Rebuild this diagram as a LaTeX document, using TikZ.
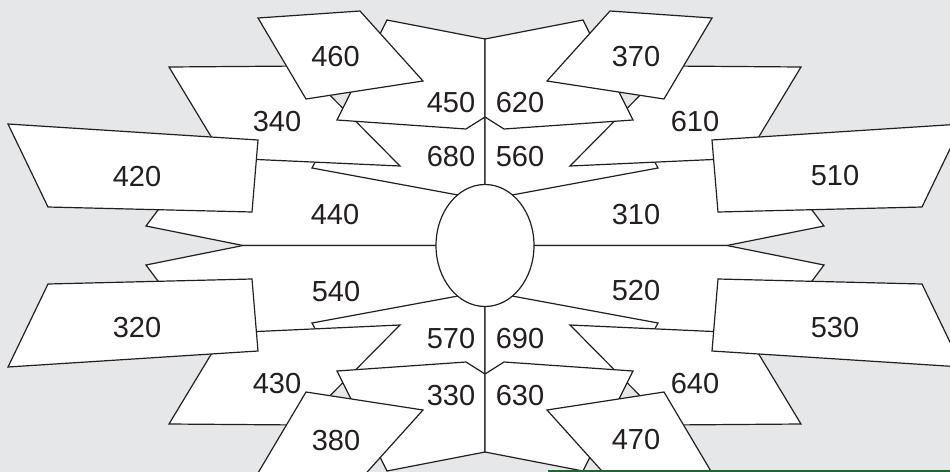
\documentclass[tikz,border=0pt]{standalone}
\usepackage{fontspec}
\setmainfont{Liberation Sans}
\definecolor{ink}{RGB}{35,31,32}
\definecolor{paper}{RGB}{230,231,232}
\definecolor{rim}{RGB}{31,102,52}
\begin{document}
\begin{tikzpicture}[x=0.5pt, y=-0.5pt,
	piece/.style={draw=ink, fill=white, line width=0.6pt},
	lbl/.style={text=ink, inner sep=0pt, font=\fontsize{14.5}{17}\selectfont}]

	\clip (0,0) rectangle (950,472);
	\fill[paper] (0,0) rectangle (950,472);

	\draw[piece] (203,150) -- (146,226) -- (243,245.5) -- (485,245.5) -- (485,150) -- cycle;
	\draw[piece] (203,341) -- (146,265) -- (243,245.5) -- (485,245.5) -- (485,341) -- cycle;
	\draw[piece] (767,150) -- (824,226) -- (727,245.5) -- (485,245.5) -- (485,150) -- cycle;
	\draw[piece] (767,341) -- (824,265) -- (727,245.5) -- (485,245.5) -- (485,341) -- cycle;

	\draw[piece] (312,168) -- (340,115) -- (485,115) -- (485,200) -- cycle;
	\draw[piece] (658,168) -- (630,115) -- (485,115) -- (485,200) -- cycle;
	\draw[piece] (312,323) -- (340,376) -- (485,376) -- (485,291) -- cycle;
	\draw[piece] (658,323) -- (630,376) -- (485,376) -- (485,291) -- cycle;

	\draw[piece] (169,67) -- (301,66) -- (400,166) -- (224,158) -- cycle;
	\draw[piece] (801,67) -- (669,66) -- (570,166) -- (746,158) -- cycle;
	\draw[piece] (169,424) -- (301,425) -- (400,325) -- (224,333) -- cycle;
	\draw[piece] (801,424) -- (669,425) -- (570,325) -- (746,333) -- cycle;

	\draw[piece] (485,39) -- (387,20) -- (337,120) -- (466,129) -- (485,117) -- cycle;
	\draw[piece] (485,39) -- (583,20) -- (633,120) -- (504,129) -- (485,117) -- cycle;
	\draw[piece] (485,452) -- (387,471) -- (337,371) -- (466,362) -- (485,374) -- cycle;
	\draw[piece] (485,452) -- (583,471) -- (633,371) -- (504,362) -- (485,374) -- cycle;

	\draw[piece] (8,124) -- (258,140) -- (252,212) -- (48,207) -- cycle;
	\draw[piece] (962,124) -- (712,140) -- (718,212) -- (922,207) -- cycle;
	\draw[piece] (8,367) -- (258,351) -- (252,279) -- (48,284) -- cycle;
	\draw[piece] (962,367) -- (712,351) -- (718,279) -- (922,284) -- cycle;

	\draw[piece] (258,18) -- (360,11) -- (423,81) -- (306,99) -- cycle;
	\draw[piece] (712,18) -- (610,11) -- (547,81) -- (664,99) -- cycle;
	\draw[piece] (258,473) -- (360,480) -- (423,410) -- (306,392) -- cycle;
	\draw[piece] (712,473) -- (610,480) -- (547,410) -- (664,392) -- cycle;

	\draw[piece] (485,245.5) ellipse [x radius=49, y radius=61];

	\node[lbl] (l460) at (335.5,57) {460};
	\node[lbl] (l370) at (636,57) {370};
	\node[lbl] (l450) at (451,103) {450};
	\node[lbl] (l620) at (520,103) {620};
	\node[lbl] (l340) at (277,122) {340};
	\node[lbl] (l610) at (695,122) {610};
	\node[lbl] (l680) at (451,157) {680};
	\node[lbl] (l560) at (520,157) {560};
	\node[lbl] (l420) at (137,177) {420};
	\node[lbl] (l510) at (835,176) {510};
	\node[lbl] (l440) at (335,215) {440};
	\node[lbl] (l310) at (636,215) {310};
	\node[lbl] (l540) at (336,292) {540};
	\node[lbl] (l520) at (636,291) {520};
	\node[lbl] (l320) at (137,328) {320};
	\node[lbl] (l530) at (835,328) {530};
	\node[lbl] (l570) at (451,339) {570};
	\node[lbl] (l690) at (520,339) {690};
	\node[lbl] (l430) at (277,384) {430};
	\node[lbl] (l640) at (695,384) {640};
	\node[lbl] (l330) at (451,396) {330};
	\node[lbl] (l630) at (520,396) {630};
	\node[lbl] (l380) at (336,441) {380};
	\node[lbl] (l470) at (636,440) {470};

	\fill[rim] (548,469.5) rectangle (950,472);

\end{tikzpicture}
\end{document}
